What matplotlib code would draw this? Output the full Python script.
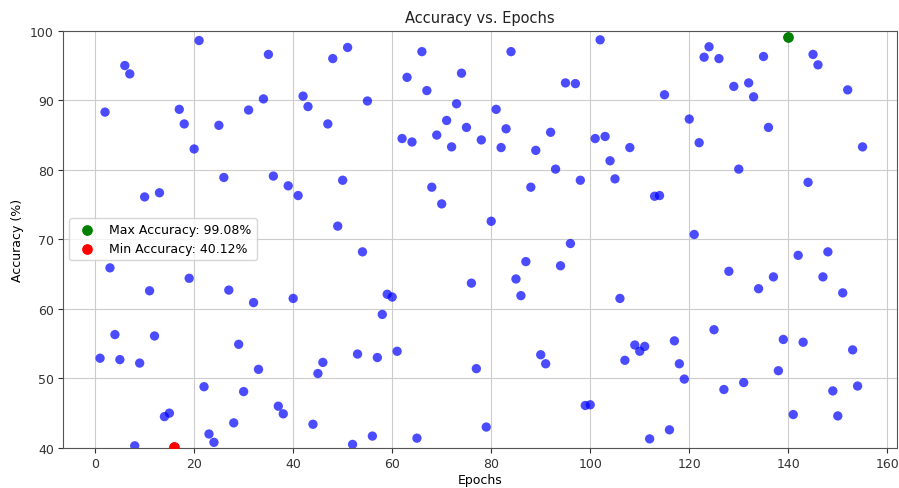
import matplotlib
matplotlib.use("Agg")
import matplotlib.pyplot as plt
import numpy as np

epochs = list(range(1, 156))
accuracy = [
    52.9, 88.3, 65.9, 56.3, 52.7, 95.0, 93.8, 40.3, 52.2, 76.1,
    62.6, 56.1, 76.7, 44.5, 45.0, 40.12, 88.7, 86.6, 64.4, 83.0,
    98.6, 48.8, 42.0, 40.8, 86.4, 78.9, 62.7, 43.6, 54.9, 48.1,
    88.6, 60.9, 51.3, 90.2, 96.6, 79.1, 46.0, 44.9, 77.7, 61.5,
    76.3, 90.6, 89.1, 43.4, 50.7, 52.3, 86.6, 96.0, 71.9, 78.5,
    97.6, 40.5, 53.5, 68.2, 89.9, 41.7, 53.0, 59.2, 62.1, 61.7,
    53.9, 84.5, 93.3, 84.0, 41.4, 97.0, 91.4, 77.5, 85.0, 75.1,
    87.1, 83.3, 89.5, 93.9, 86.1, 63.7, 51.4, 84.3, 43.0, 72.6,
    88.7, 83.2, 85.9, 97.0, 64.3, 61.9, 66.8, 77.5, 82.8, 53.4,
    52.1, 85.4, 80.1, 66.2, 92.5, 69.4, 92.4, 78.5, 46.1, 46.2,
    84.5, 98.7, 84.8, 81.3, 78.7, 61.5, 52.6, 83.2, 54.8, 53.9,
    54.6, 41.3, 76.2, 76.3, 90.8, 42.6, 55.4, 52.1, 49.9, 87.3,
    70.7, 83.9, 96.2, 97.7, 57.0, 96.0, 48.4, 65.4, 92.0, 80.1,
    49.4, 92.5, 90.5, 62.9, 96.3, 86.1, 64.6, 51.1, 55.6, 99.08,
    44.8, 67.7, 55.2, 78.2, 96.6, 95.1, 64.6, 68.2, 48.2, 44.6,
    62.3, 91.5, 54.1, 48.9, 83.3,
]

epochs = np.array(epochs)
accuracy = np.array(accuracy)
i_max = int(np.argmax(accuracy))
i_min = int(np.argmin(accuracy))

fig = plt.figure(figsize=(8.99, 4.89), dpi=100)
ax = fig.add_axes([0.070, 0.082, 0.928, 0.853])

ax.scatter(epochs, accuracy, color="blue", alpha=0.7, s=45, edgecolors="none")
ax.scatter(epochs[i_max], accuracy[i_max], color="green", s=45, zorder=3,
           label=f"Max Accuracy: {accuracy[i_max]:.2f}%")
ax.scatter(epochs[i_min], accuracy[i_min], color="red", s=45, zorder=3,
           label=f"Min Accuracy: {accuracy[i_min]:.2f}%")

ax.set_xlim(-6.5, 162)
ax.set_ylim(40, 100)
ax.set_xticks([0, 20, 40, 60, 80, 100, 120, 140, 160])
ax.set_yticks([40, 50, 60, 70, 80, 90, 100])
ax.tick_params(labelsize=9, colors="#333333", pad=3)
ax.set_title("Accuracy vs. Epochs", fontsize=10.5, color="#222222")
ax.set_xlabel("Epochs", fontsize=9, labelpad=2)
ax.set_ylabel("Accuracy (%)", fontsize=9)
ax.grid(True, color="#cccccc", linewidth=0.8)
ax.set_axisbelow(True)
for s in ax.spines.values():
    s.set_color("#555555")
ax.legend(loc="center left", fontsize=9)

fig.savefig("out.png", dpi=100)
